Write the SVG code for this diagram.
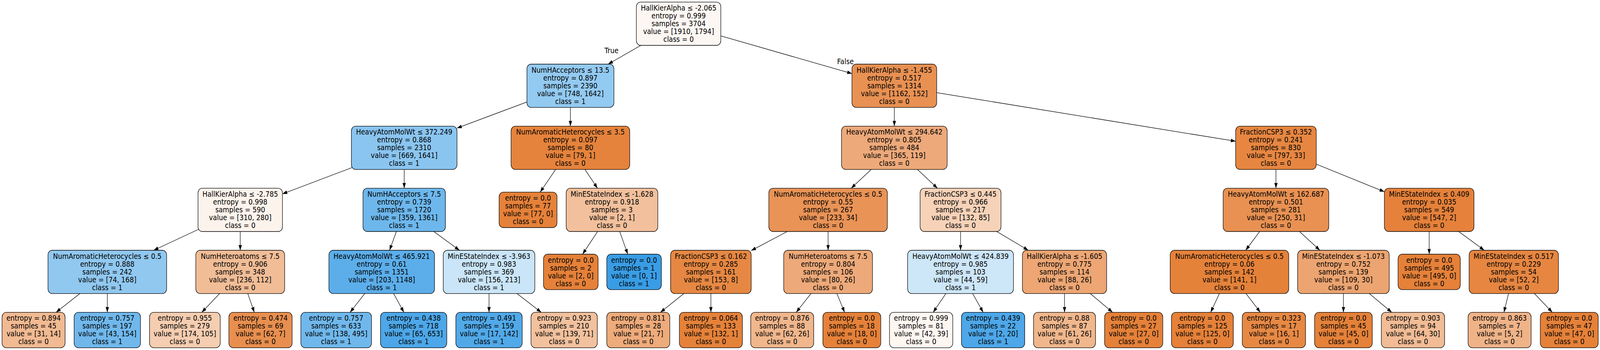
<svg xmlns="http://www.w3.org/2000/svg" width="4511" height="895" viewBox="0 0 4511 895" preserveAspectRatio="none">
<style>
:root{width:100vw;height:100vh}
.node rect{stroke:#000;stroke-width:1.33}
text{font-family:"DejaVu Sans","Liberation Sans",sans-serif;font-size:18.67px;text-anchor:middle;fill:#000}
.edges line{stroke:#000;stroke-width:1.33;marker-end:url(#arr)}
</style>
<defs>
<marker id="arr" markerUnits="userSpaceOnUse" markerWidth="14" markerHeight="10" refX="13.33" refY="4.67" orient="auto" overflow="visible">
<path d="M0,0 L13.33,4.67 L0,9.33 Z" fill="#000"/>
</marker>
</defs>
<rect width="4511" height="895" fill="#fff"/>
<g id="connectors" class="edges">
<line x1="1913.25" y1="60.67" x2="1714.6" y2="164"/>
<line x1="1913.25" y1="60.67" x2="2402" y2="188.2"/>
<line x1="1608.25" y1="219.33" x2="1288.5" y2="327.6"/>
<line x1="1608.2" y1="219.33" x2="1608.2" y2="322.67"/>
<line x1="2521.45" y1="219.33" x2="2521.45" y2="322.67"/>
<line x1="2521.45" y1="219.33" x2="3483.7" y2="361.2"/>
<line x1="1139.6" y1="378" x2="796.35" y2="495.8"/>
<line x1="1139.6" y1="378" x2="1139.6" y2="481.33"/>
<line x1="1608.2" y1="378" x2="1522.9" y2="491.33"/>
<line x1="1608.2" y1="378" x2="1684.56" y2="481.33"/>
<line x1="2521.45" y1="378" x2="2399.8" y2="481.33"/>
<line x1="2521.45" y1="378" x2="2643.05" y2="481.33"/>
<line x1="3597.4" y1="378" x2="3597.4" y2="481.33"/>
<line x1="3597.35" y1="378" x2="3903.1" y2="490.3"/>
<line x1="677.3" y1="536.67" x2="433.2" y2="640"/>
<line x1="677.3" y1="536.67" x2="677.3" y2="640"/>
<line x1="1139.6" y1="536.67" x2="1098.3" y2="640"/>
<line x1="1139.6" y1="536.67" x2="1295.35" y2="640"/>
<line x1="1725.45" y1="536.67" x2="1642.5" y2="650"/>
<line x1="1725.45" y1="536.67" x2="1769.9" y2="650"/>
<line x1="2334.7" y1="536.67" x2="2117.9" y2="640.8"/>
<line x1="2334.7" y1="536.67" x2="2334.7" y2="640"/>
<line x1="2708.15" y1="536.67" x2="2708.15" y2="640"/>
<line x1="2708.15" y1="536.67" x2="2899.1" y2="640"/>
<line x1="3597.4" y1="536.67" x2="3512" y2="640"/>
<line x1="3597.4" y1="536.67" x2="3721.3" y2="640"/>
<line x1="4029.4" y1="536.67" x2="4029.4" y2="650"/>
<line x1="4029.4" y1="536.67" x2="4184.7" y2="640"/>
<line x1="302.55" y1="695.33" x2="158.05" y2="798.67"/>
<line x1="302.55" y1="695.33" x2="302.55" y2="798.67"/>
<line x1="677.3" y1="695.33" x2="568.83" y2="798.67"/>
<line x1="677.3" y1="695.33" x2="717.06" y2="798.67"/>
<line x1="1076.2" y1="695.33" x2="986.99" y2="798.67"/>
<line x1="1076.2" y1="695.33" x2="1138.76" y2="798.67"/>
<line x1="1378.75" y1="695.33" x2="1378.75" y2="798.67"/>
<line x1="1378.75" y1="695.33" x2="1526" y2="798.67"/>
<line x1="2004.25" y1="695.33" x2="1861.97" y2="798.67"/>
<line x1="2004.25" y1="695.33" x2="2004.25" y2="798.67"/>
<line x1="2334.7" y1="695.33" x2="2244.76" y2="798.67"/>
<line x1="2334.7" y1="695.33" x2="2381.24" y2="798.67"/>
<line x1="2708.15" y1="695.33" x2="2630.89" y2="798.67"/>
<line x1="2708.15" y1="695.33" x2="2771.92" y2="798.67"/>
<line x1="3001.3" y1="695.33" x2="3001.3" y2="798.67"/>
<line x1="3001.3" y1="695.33" x2="3136.84" y2="798.67"/>
<line x1="3466.3" y1="695.33" x2="3413.27" y2="798.67"/>
<line x1="3466.3" y1="695.33" x2="3553.39" y2="798.67"/>
<line x1="3787.65" y1="695.33" x2="3787.65" y2="798.67"/>
<line x1="3787.65" y1="695.33" x2="3923.92" y2="798.67"/>
<line x1="4267.9" y1="695.33" x2="4240.13" y2="798.67"/>
<line x1="4267.9" y1="695.33" x2="4376.64" y2="798.67"/>
<text x="1724" y="136.5">True</text>
<text x="2383.7" y="164">False</text>
</g>
<g id="node0" class="node"><rect x="1794.2" y="5.33" width="238.1" height="110.67" rx="12" fill="#fdf7f3"/><text y="27"><tspan x="1913.25">HallKierAlpha ≤ -2.065</tspan><tspan x="1913.25" dy="20">entropy = 0.999</tspan><tspan x="1913.25" dy="20">samples = 3704</tspan><tspan x="1913.25" dy="20">value = [1910, 1794]</tspan><tspan x="1913.25" dy="20">class = 0</tspan></text></g>
<g id="node1" class="node"><rect x="1485.6" y="164" width="245.3" height="110.67" rx="12" fill="#93caf1"/><text y="185.83"><tspan x="1608.25">NumHAcceptors ≤ 13.5</tspan><tspan x="1608.25" dy="20">entropy = 0.897</tspan><tspan x="1608.25" dy="20">samples = 2390</tspan><tspan x="1608.25" dy="20">value = [748, 1642]</tspan><tspan x="1608.25" dy="20">class = 1</tspan></text></g>
<g id="node22" class="node"><rect x="2402" y="164" width="238.9" height="110.67" rx="12" fill="#e89153"/><text y="185.83"><tspan x="2521.45">HallKierAlpha ≤ -1.455</tspan><tspan x="2521.45" dy="20">entropy = 0.517</tspan><tspan x="2521.45" dy="20">samples = 1314</tspan><tspan x="2521.45" dy="20">value = [1162, 152]</tspan><tspan x="2521.45" dy="20">class = 0</tspan></text></g>
<g id="node2" class="node"><rect x="990.7" y="322.67" width="297.8" height="110.67" rx="12" fill="#8ac5f0"/><text y="344.5"><tspan x="1139.6">HeavyAtomMolWt ≤ 372.249</tspan><tspan x="1139.6" dy="20">entropy = 0.868</tspan><tspan x="1139.6" dy="20">samples = 2310</tspan><tspan x="1139.6" dy="20">value = [669, 1641]</tspan><tspan x="1139.6" dy="20">class = 1</tspan></text></g>
<g id="node17" class="node"><rect x="1440.9" y="322.67" width="334.6" height="110.67" rx="12" fill="#e5833c"/><text y="344.5"><tspan x="1608.2">NumAromaticHeterocycles ≤ 3.5</tspan><tspan x="1608.2" dy="20">entropy = 0.097</tspan><tspan x="1608.2" dy="20">samples = 80</tspan><tspan x="1608.2" dy="20">value = [79, 1]</tspan><tspan x="1608.2" dy="20">class = 0</tspan></text></g>
<g id="node23" class="node"><rect x="2372.5" y="322.67" width="297.9" height="110.67" rx="12" fill="#eda97a"/><text y="344.5"><tspan x="2521.45">HeavyAtomMolWt ≤ 294.642</tspan><tspan x="2521.45" dy="20">entropy = 0.805</tspan><tspan x="2521.45" dy="20">samples = 484</tspan><tspan x="2521.45" dy="20">value = [365, 119]</tspan><tspan x="2521.45" dy="20">class = 0</tspan></text></g>
<g id="node38" class="node"><rect x="3483.7" y="322.67" width="227.3" height="110.67" rx="12" fill="#e68641"/><text y="344.5"><tspan x="3597.35">FractionCSP3 ≤ 0.352</tspan><tspan x="3597.35" dy="20">entropy = 0.241</tspan><tspan x="3597.35" dy="20">samples = 830</tspan><tspan x="3597.35" dy="20">value = [797, 33]</tspan><tspan x="3597.35" dy="20">class = 0</tspan></text></g>
<g id="node3" class="node"><rect x="558.3" y="481.33" width="238.1" height="110.67" rx="12" fill="#fcf3ec"/><text y="503.17"><tspan x="677.35">HallKierAlpha ≤ -2.785</tspan><tspan x="677.35" dy="20">entropy = 0.998</tspan><tspan x="677.35" dy="20">samples = 590</tspan><tspan x="677.35" dy="20">value = [310, 280]</tspan><tspan x="677.35" dy="20">class = 0</tspan></text></g>
<g id="node10" class="node"><rect x="1023.4" y="481.33" width="232.4" height="110.67" rx="12" fill="#6db7ec"/><text y="503.17"><tspan x="1139.6">NumHAcceptors ≤ 7.5</tspan><tspan x="1139.6" dy="20">entropy = 0.739</tspan><tspan x="1139.6" dy="20">samples = 1720</tspan><tspan x="1139.6" dy="20">value = [359, 1361]</tspan><tspan x="1139.6" dy="20">class = 1</tspan></text></g>
<g id="node18" class="node"><rect x="1407.1" y="491.33" width="163.3" height="90.67" rx="12" fill="#e58139"/><text y="513.17"><tspan x="1488.75">entropy = 0.0</tspan><tspan x="1488.75" dy="20">samples = 77</tspan><tspan x="1488.75" dy="20">value = [77, 0]</tspan><tspan x="1488.75" dy="20">class = 0</tspan></text></g>
<g id="node19" class="node"><rect x="1596.3" y="481.33" width="258.3" height="110.67" rx="12" fill="#f2c09c"/><text y="503.17"><tspan x="1725.45">MinEStateIndex ≤ -1.628</tspan><tspan x="1725.45" dy="20">entropy = 0.918</tspan><tspan x="1725.45" dy="20">samples = 3</tspan><tspan x="1725.45" dy="20">value = [2, 1]</tspan><tspan x="1725.45" dy="20">class = 0</tspan></text></g>
<g id="node24" class="node"><rect x="2167.6" y="481.33" width="334.2" height="110.67" rx="12" fill="#e99356"/><text y="503.17"><tspan x="2334.7">NumAromaticHeterocycles ≤ 0.5</tspan><tspan x="2334.7" dy="20">entropy = 0.55</tspan><tspan x="2334.7" dy="20">samples = 267</tspan><tspan x="2334.7" dy="20">value = [233, 34]</tspan><tspan x="2334.7" dy="20">class = 0</tspan></text></g>
<g id="node31" class="node"><rect x="2594.1" y="481.33" width="228.1" height="110.67" rx="12" fill="#f6d2b8"/><text y="503.17"><tspan x="2708.15">FractionCSP3 ≤ 0.445</tspan><tspan x="2708.15" dy="20">entropy = 0.966</tspan><tspan x="2708.15" dy="20">samples = 217</tspan><tspan x="2708.15" dy="20">value = [132, 85]</tspan><tspan x="2708.15" dy="20">class = 0</tspan></text></g>
<g id="node39" class="node"><rect x="3448.5" y="481.33" width="297.8" height="110.67" rx="12" fill="#e89152"/><text y="503.17"><tspan x="3597.4">HeavyAtomMolWt ≤ 162.687</tspan><tspan x="3597.4" dy="20">entropy = 0.501</tspan><tspan x="3597.4" dy="20">samples = 281</tspan><tspan x="3597.4" dy="20">value = [250, 31]</tspan><tspan x="3597.4" dy="20">class = 0</tspan></text></g>
<g id="node46" class="node"><rect x="3903.1" y="481.33" width="252.6" height="110.67" rx="12" fill="#e5813a"/><text y="503.17"><tspan x="4029.4">MinEStateIndex ≤ 0.409</tspan><tspan x="4029.4" dy="20">entropy = 0.035</tspan><tspan x="4029.4" dy="20">samples = 549</tspan><tspan x="4029.4" dy="20">value = [547, 2]</tspan><tspan x="4029.4" dy="20">class = 0</tspan></text></g>
<g id="node4" class="node"><rect x="135.3" y="640" width="334.5" height="110.67" rx="12" fill="#90c8f0"/><text y="661.83"><tspan x="302.55">NumAromaticHeterocycles ≤ 0.5</tspan><tspan x="302.55" dy="20">entropy = 0.888</tspan><tspan x="302.55" dy="20">samples = 242</tspan><tspan x="302.55" dy="20">value = [74, 168]</tspan><tspan x="302.55" dy="20">class = 1</tspan></text></g>
<g id="node7" class="node"><rect x="552.1" y="640" width="250.4" height="110.67" rx="12" fill="#f1bd97"/><text y="661.83"><tspan x="677.3">NumHeteroatoms ≤ 7.5</tspan><tspan x="677.3" dy="20">entropy = 0.906</tspan><tspan x="677.3" dy="20">samples = 348</tspan><tspan x="677.3" dy="20">value = [236, 112]</tspan><tspan x="677.3" dy="20">class = 0</tspan></text></g>
<g id="node11" class="node"><rect x="927.3" y="640" width="297.8" height="110.67" rx="12" fill="#5caeea"/><text y="661.83"><tspan x="1076.2">HeavyAtomMolWt ≤ 465.921</tspan><tspan x="1076.2" dy="20">entropy = 0.61</tspan><tspan x="1076.2" dy="20">samples = 1351</tspan><tspan x="1076.2" dy="20">value = [203, 1148]</tspan><tspan x="1076.2" dy="20">class = 1</tspan></text></g>
<g id="node14" class="node"><rect x="1249.6" y="640" width="258.3" height="110.67" rx="12" fill="#cae5f8"/><text y="661.83"><tspan x="1378.75">MinEStateIndex ≤ -3.963</tspan><tspan x="1378.75" dy="20">entropy = 0.983</tspan><tspan x="1378.75" dy="20">samples = 369</tspan><tspan x="1378.75" dy="20">value = [156, 213]</tspan><tspan x="1378.75" dy="20">class = 1</tspan></text></g>
<g id="node20" class="node"><rect x="1532.3" y="650" width="154" height="90.67" rx="12" fill="#e58139"/><text y="671.83"><tspan x="1609.3">entropy = 0.0</tspan><tspan x="1609.3" dy="20">samples = 2</tspan><tspan x="1609.3" dy="20">value = [2, 0]</tspan><tspan x="1609.3" dy="20">class = 0</tspan></text></g>
<g id="node21" class="node"><rect x="1710.7" y="650" width="154" height="90.67" rx="12" fill="#399de5"/><text y="671.83"><tspan x="1787.7">entropy = 0.0</tspan><tspan x="1787.7" dy="20">samples = 1</tspan><tspan x="1787.7" dy="20">value = [0, 1]</tspan><tspan x="1787.7" dy="20">class = 1</tspan></text></g>
<g id="node25" class="node"><rect x="1890.6" y="640" width="227.3" height="110.67" rx="12" fill="#e68843"/><text y="661.83"><tspan x="2004.25">FractionCSP3 ≤ 0.162</tspan><tspan x="2004.25" dy="20">entropy = 0.285</tspan><tspan x="2004.25" dy="20">samples = 161</tspan><tspan x="2004.25" dy="20">value = [153, 8]</tspan><tspan x="2004.25" dy="20">class = 0</tspan></text></g>
<g id="node28" class="node"><rect x="2209.55" y="640" width="250.3" height="110.67" rx="12" fill="#eda979"/><text y="661.83"><tspan x="2334.7">NumHeteroatoms ≤ 7.5</tspan><tspan x="2334.7" dy="20">entropy = 0.804</tspan><tspan x="2334.7" dy="20">samples = 106</tspan><tspan x="2334.7" dy="20">value = [80, 26]</tspan><tspan x="2334.7" dy="20">class = 0</tspan></text></g>
<g id="node32" class="node"><rect x="2558.9" y="640" width="298.5" height="110.67" rx="12" fill="#cde6f8"/><text y="661.83"><tspan x="2708.15">HeavyAtomMolWt ≤ 424.839</tspan><tspan x="2708.15" dy="20">entropy = 0.985</tspan><tspan x="2708.15" dy="20">samples = 103</tspan><tspan x="2708.15" dy="20">value = [44, 59]</tspan><tspan x="2708.15" dy="20">class = 1</tspan></text></g>
<g id="node35" class="node"><rect x="2882.6" y="640" width="237.4" height="110.67" rx="12" fill="#eda674"/><text y="661.83"><tspan x="3001.3">HallKierAlpha ≤ -1.605</tspan><tspan x="3001.3" dy="20">entropy = 0.775</tspan><tspan x="3001.3" dy="20">samples = 114</tspan><tspan x="3001.3" dy="20">value = [88, 26]</tspan><tspan x="3001.3" dy="20">class = 0</tspan></text></g>
<g id="node40" class="node"><rect x="3299.2" y="640" width="334.2" height="110.67" rx="12" fill="#e5823a"/><text y="661.83"><tspan x="3466.3">NumAromaticHeterocycles ≤ 0.5</tspan><tspan x="3466.3" dy="20">entropy = 0.06</tspan><tspan x="3466.3" dy="20">samples = 142</tspan><tspan x="3466.3" dy="20">value = [141, 1]</tspan><tspan x="3466.3" dy="20">class = 0</tspan></text></g>
<g id="node43" class="node"><rect x="3658.5" y="640" width="258.3" height="110.67" rx="12" fill="#eca470"/><text y="661.83"><tspan x="3787.65">MinEStateIndex ≤ -1.073</tspan><tspan x="3787.65" dy="20">entropy = 0.752</tspan><tspan x="3787.65" dy="20">samples = 139</tspan><tspan x="3787.65" dy="20">value = [109, 30]</tspan><tspan x="3787.65" dy="20">class = 0</tspan></text></g>
<g id="node47" class="node"><rect x="3941.65" y="650" width="175.5" height="90.67" rx="12" fill="#e58139"/><text y="671.83"><tspan x="4029.4">entropy = 0.0</tspan><tspan x="4029.4" dy="20">samples = 495</tspan><tspan x="4029.4" dy="20">value = [495, 0]</tspan><tspan x="4029.4" dy="20">class = 0</tspan></text></g>
<g id="node48" class="node"><rect x="4142" y="640" width="251.8" height="110.67" rx="12" fill="#e68641"/><text y="661.83"><tspan x="4267.9">MinEStateIndex ≤ 0.517</tspan><tspan x="4267.9" dy="20">entropy = 0.229</tspan><tspan x="4267.9" dy="20">samples = 54</tspan><tspan x="4267.9" dy="20">value = [52, 2]</tspan><tspan x="4267.9" dy="20">class = 0</tspan></text></g>
<g id="node5" class="node"><rect x="5.8" y="798.67" width="177.7" height="90.67" rx="12" fill="#f1ba92"/><text y="820.5"><tspan x="94.65">entropy = 0.894</tspan><tspan x="94.65" dy="20">samples = 45</tspan><tspan x="94.65" dy="20">value = [31, 14]</tspan><tspan x="94.65" dy="20">class = 0</tspan></text></g>
<g id="node6" class="node"><rect x="209" y="798.67" width="187.1" height="90.67" rx="12" fill="#70b8ec"/><text y="820.5"><tspan x="302.55">entropy = 0.757</tspan><tspan x="302.55" dy="20">samples = 197</tspan><tspan x="302.55" dy="20">value = [43, 154]</tspan><tspan x="302.55" dy="20">class = 1</tspan></text></g>
<g id="node8" class="node"><rect x="421.6" y="798.67" width="199.3" height="90.67" rx="12" fill="#f5cdb0"/><text y="820.5"><tspan x="521.25">entropy = 0.955</tspan><tspan x="521.25" dy="20">samples = 279</tspan><tspan x="521.25" dy="20">value = [174, 105]</tspan><tspan x="521.25" dy="20">class = 0</tspan></text></g>
<g id="node9" class="node"><rect x="645.3" y="798.67" width="178.4" height="90.67" rx="12" fill="#e88f4f"/><text y="820.5"><tspan x="734.5">entropy = 0.474</tspan><tspan x="734.5" dy="20">samples = 69</tspan><tspan x="734.5" dy="20">value = [62, 7]</tspan><tspan x="734.5" dy="20">class = 0</tspan></text></g>
<g id="node12" class="node"><rect x="848.2" y="798.67" width="199.3" height="90.67" rx="12" fill="#70b8ec"/><text y="820.5"><tspan x="947.85">entropy = 0.757</tspan><tspan x="947.85" dy="20">samples = 633</tspan><tspan x="947.85" dy="20">value = [138, 495]</tspan><tspan x="947.85" dy="20">class = 1</tspan></text></g>
<g id="node13" class="node"><rect x="1072.7" y="798.67" width="187" height="90.67" rx="12" fill="#4da7e8"/><text y="820.5"><tspan x="1166.2">entropy = 0.438</tspan><tspan x="1166.2" dy="20">samples = 718</tspan><tspan x="1166.2" dy="20">value = [65, 653]</tspan><tspan x="1166.2" dy="20">class = 1</tspan></text></g>
<g id="node15" class="node"><rect x="1285.2" y="798.67" width="187.1" height="90.67" rx="12" fill="#51a9e8"/><text y="820.5"><tspan x="1378.75">entropy = 0.491</tspan><tspan x="1378.75" dy="20">samples = 159</tspan><tspan x="1378.75" dy="20">value = [17, 142]</tspan><tspan x="1378.75" dy="20">class = 1</tspan></text></g>
<g id="node16" class="node"><rect x="1497.1" y="798.67" width="187" height="90.67" rx="12" fill="#f2c19e"/><text y="820.5"><tspan x="1590.6">entropy = 0.923</tspan><tspan x="1590.6" dy="20">samples = 210</tspan><tspan x="1590.6" dy="20">value = [139, 71]</tspan><tspan x="1590.6" dy="20">class = 0</tspan></text></g>
<g id="node26" class="node"><rect x="1710.7" y="798.67" width="177.7" height="90.67" rx="12" fill="#eeab7b"/><text y="820.5"><tspan x="1799.55">entropy = 0.811</tspan><tspan x="1799.55" dy="20">samples = 28</tspan><tspan x="1799.55" dy="20">value = [21, 7]</tspan><tspan x="1799.55" dy="20">class = 0</tspan></text></g>
<g id="node27" class="node"><rect x="1915.4" y="798.67" width="177.7" height="90.67" rx="12" fill="#e5823a"/><text y="820.5"><tspan x="2004.25">entropy = 0.064</tspan><tspan x="2004.25" dy="20">samples = 133</tspan><tspan x="2004.25" dy="20">value = [132, 1]</tspan><tspan x="2004.25" dy="20">class = 0</tspan></text></g>
<g id="node29" class="node"><rect x="2116.5" y="798.67" width="177.6" height="90.67" rx="12" fill="#f0b68c"/><text y="820.5"><tspan x="2205.3">entropy = 0.876</tspan><tspan x="2205.3" dy="20">samples = 88</tspan><tspan x="2205.3" dy="20">value = [62, 26]</tspan><tspan x="2205.3" dy="20">class = 0</tspan></text></g>
<g id="node30" class="node"><rect x="2320" y="798.67" width="163.3" height="90.67" rx="12" fill="#e58139"/><text y="820.5"><tspan x="2401.65">entropy = 0.0</tspan><tspan x="2401.65" dy="20">samples = 18</tspan><tspan x="2401.65" dy="20">value = [18, 0]</tspan><tspan x="2401.65" dy="20">class = 0</tspan></text></g>
<g id="node33" class="node"><rect x="2507.8" y="798.67" width="178.4" height="90.67" rx="12" fill="#fdf6f1"/><text y="820.5"><tspan x="2597">entropy = 0.999</tspan><tspan x="2597" dy="20">samples = 81</tspan><tspan x="2597" dy="20">value = [42, 39]</tspan><tspan x="2597" dy="20">class = 0</tspan></text></g>
<g id="node34" class="node"><rect x="2710.7" y="798.67" width="178.4" height="90.67" rx="12" fill="#4da7e8"/><text y="820.5"><tspan x="2799.9">entropy = 0.439</tspan><tspan x="2799.9" dy="20">samples = 22</tspan><tspan x="2799.9" dy="20">value = [2, 20]</tspan><tspan x="2799.9" dy="20">class = 1</tspan></text></g>
<g id="node36" class="node"><rect x="2913.9" y="798.67" width="174.8" height="90.67" rx="12" fill="#f0b78d"/><text y="820.5"><tspan x="3001.3">entropy = 0.88</tspan><tspan x="3001.3" dy="20">samples = 87</tspan><tspan x="3001.3" dy="20">value = [61, 26]</tspan><tspan x="3001.3" dy="20">class = 0</tspan></text></g>
<g id="node37" class="node"><rect x="3114.3" y="798.67" width="164" height="90.67" rx="12" fill="#e58139"/><text y="820.5"><tspan x="3196.3">entropy = 0.0</tspan><tspan x="3196.3" dy="20">samples = 27</tspan><tspan x="3196.3" dy="20">value = [27, 0]</tspan><tspan x="3196.3" dy="20">class = 0</tspan></text></g>
<g id="node41" class="node"><rect x="3302.8" y="798.67" width="174.4" height="90.67" rx="12" fill="#e58139"/><text y="820.5"><tspan x="3390">entropy = 0.0</tspan><tspan x="3390" dy="20">samples = 125</tspan><tspan x="3390" dy="20">value = [125, 0]</tspan><tspan x="3390" dy="20">class = 0</tspan></text></g>
<g id="node42" class="node"><rect x="3502.4" y="798.67" width="178.4" height="90.67" rx="12" fill="#e78945"/><text y="820.5"><tspan x="3591.6">entropy = 0.323</tspan><tspan x="3591.6" dy="20">samples = 17</tspan><tspan x="3591.6" dy="20">value = [16, 1]</tspan><tspan x="3591.6" dy="20">class = 0</tspan></text></g>
<g id="node44" class="node"><rect x="3706.35" y="798.67" width="162.6" height="90.67" rx="12" fill="#e58139"/><text y="820.5"><tspan x="3787.65">entropy = 0.0</tspan><tspan x="3787.65" dy="20">samples = 45</tspan><tspan x="3787.65" dy="20">value = [45, 0]</tspan><tspan x="3787.65" dy="20">class = 0</tspan></text></g>
<g id="node45" class="node"><rect x="3894.5" y="798.67" width="178.4" height="90.67" rx="12" fill="#f1bc96"/><text y="820.5"><tspan x="3983.7">entropy = 0.903</tspan><tspan x="3983.7" dy="20">samples = 94</tspan><tspan x="3983.7" dy="20">value = [64, 30]</tspan><tspan x="3983.7" dy="20">class = 0</tspan></text></g>
<g id="node49" class="node"><rect x="4139.1" y="798.67" width="177.7" height="90.67" rx="12" fill="#efb388"/><text y="820.5"><tspan x="4227.95">entropy = 0.863</tspan><tspan x="4227.95" dy="20">samples = 7</tspan><tspan x="4227.95" dy="20">value = [5, 2]</tspan><tspan x="4227.95" dy="20">class = 0</tspan></text></g>
<g id="node50" class="node"><rect x="4342.7" y="798.67" width="163.3" height="90.67" rx="12" fill="#e58139"/><text y="820.5"><tspan x="4424.35">entropy = 0.0</tspan><tspan x="4424.35" dy="20">samples = 47</tspan><tspan x="4424.35" dy="20">value = [47, 0]</tspan><tspan x="4424.35" dy="20">class = 0</tspan></text></g>
</svg>
